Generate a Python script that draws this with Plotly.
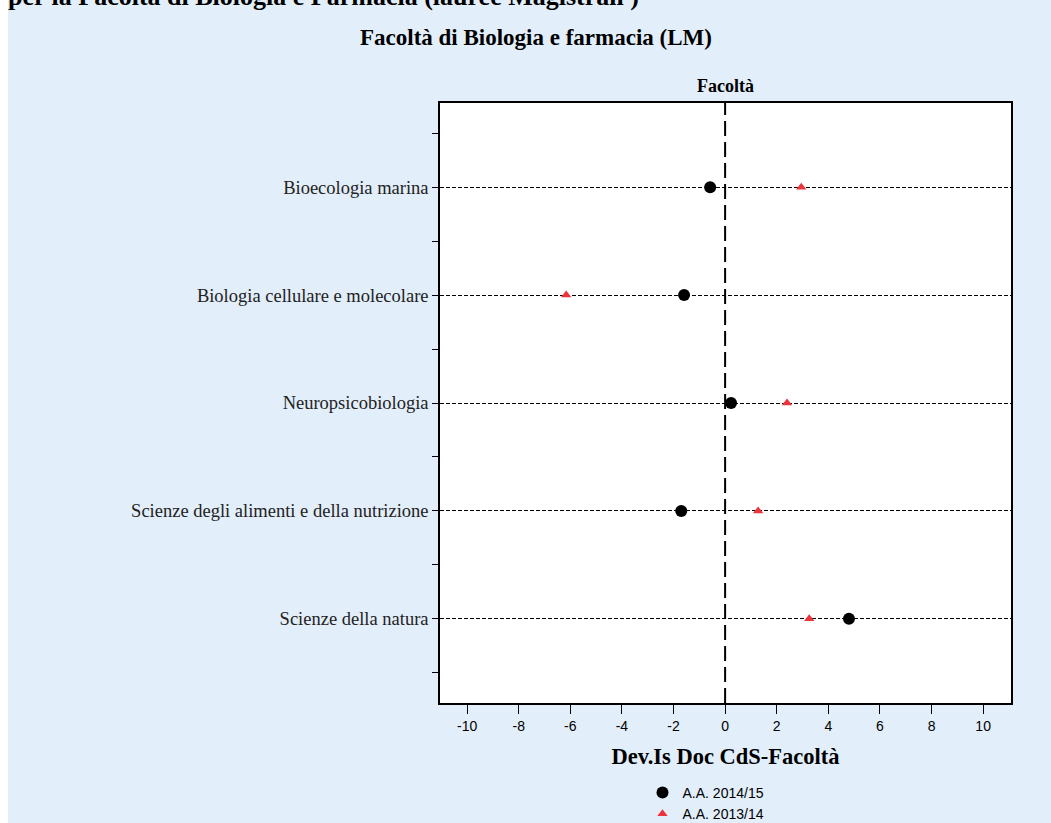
import plotly.graph_objects as go

categories = ["Bioecologia marina", "Biologia cellulare e molecolare", "Neuropsicobiologia",
              "Scienze degli alimenti e della nutrizione", "Scienze della natura"]
aa_2014_15 = [-0.58, -1.59, 0.23, -1.70, 4.80]
aa_2013_14 = [2.95, -6.16, 2.40, 1.28, 3.26]
x_ticks = [-10, -8, -6, -4, -2, 0, 2, 4, 6, 8, 10]
x_ticktext = ["-10", "-8", "-6", "-4", "-2", "0", "2", "4", "6", "8", "10"]

W, H = 1051, 823
L, R, T, B = 440, 1011, 103, 703
BG = "#E2EEFA"

def px(xp):
    return (xp - L) / (R - L)

def py(yp):
    return (B - yp) / (B - T)

ypos = list(range(len(categories)))

fig = go.Figure()
fig.add_trace(go.Scatter(x=aa_2013_14, y=ypos, mode="markers", name="A.A. 2013/14",
                         marker=dict(symbol="triangle-up", size=9, color="rgb(236,52,60)"),
                         legendrank=2))
fig.add_trace(go.Scatter(x=aa_2014_15, y=ypos, mode="markers", name="A.A. 2014/15",
                         marker=dict(symbol="circle", size=12, color="black"),
                         legendrank=1))

fig.add_vline(x=0, line=dict(color="black", width=2, dash="15px,6px"), layer="below")

serif = "Liberation Serif"
sans = "Liberation Sans"

fig.update_layout(
    width=W, height=H,
    margin=dict(l=L, r=W - R, t=T, b=H - B, pad=0, autoexpand=False),
    paper_bgcolor=BG, plot_bgcolor="white",
    showlegend=True,
    legend=dict(x=px(706), xanchor="center", y=py(777), yanchor="top",
                font=dict(family=sans, size=14, color="black"),
                bgcolor="rgba(0,0,0,0)", tracegroupgap=0, itemwidth=30),
    xaxis=dict(range=[-11.05, 11.08], tickvals=x_ticks, ticktext=x_ticktext,
               ticks="outside", ticklen=9,
               tickcolor="black", showgrid=False, zeroline=False,
               showline=True, linecolor="black", linewidth=1.5, mirror=True,
               tickfont=dict(family=sans, size=14, color="black"),
               title=dict(text="<b>Dev.Is Doc CdS-Facoltà</b>", standoff=16,
                          font=dict(family=serif, size=22.5, color="black"))),
    yaxis=dict(range=[4.78, -0.78], tickvals=ypos, ticktext=categories,
               ticks="outside", ticklen=6, tickcolor="black",
               showgrid=True, gridcolor="black", gridwidth=1, griddash="4px,2px",
               zeroline=False, showline=True, linecolor="black", linewidth=1.5, mirror=True,
               tickfont=dict(family=serif, size=18.5, color="#222222"),
               minor=dict(tickvals=[-0.5, 0.5, 1.5, 2.5, 3.5, 4.5], ticks="outside",
                          ticklen=6, tickcolor="black", showgrid=False)),
    shapes=[
        dict(type="rect", xref="paper", yref="paper", x0=px(-5), x1=px(W + 5),
             y0=py(12), y1=py(-5), fillcolor="white", line=dict(width=0), layer="below"),
        dict(type="rect", xref="paper", yref="paper", x0=px(-5), x1=px(8),
             y0=py(H + 5), y1=py(-5), fillcolor="white", line=dict(width=0), layer="below"),
    ],
    annotations=[
        dict(text="<b>per la Facoltà di Biologia e Farmacia (lauree Magistrali )</b>",
             xref="paper", yref="paper", x=px(6), y=py(-3), xanchor="left", yanchor="middle",
             showarrow=False, font=dict(family=serif, size=26, color="black")),
        dict(text="<b>Facoltà di Biologia e farmacia (LM)</b>",
             xref="paper", yref="paper", x=px(536), y=py(38), xanchor="center", yanchor="middle",
             showarrow=False, font=dict(family=serif, size=23, color="black")),
        dict(text="<b>Facoltà</b>",
             xref="paper", yref="paper", x=0.5, y=py(86), xanchor="center", yanchor="middle",
             showarrow=False, font=dict(family=serif, size=18, color="black")),
    ],
)

fig.write_html("out.html", config={"displayModeBar": False},
               post_script="document.body.style.margin='0';document.body.style.overflow='hidden';")
